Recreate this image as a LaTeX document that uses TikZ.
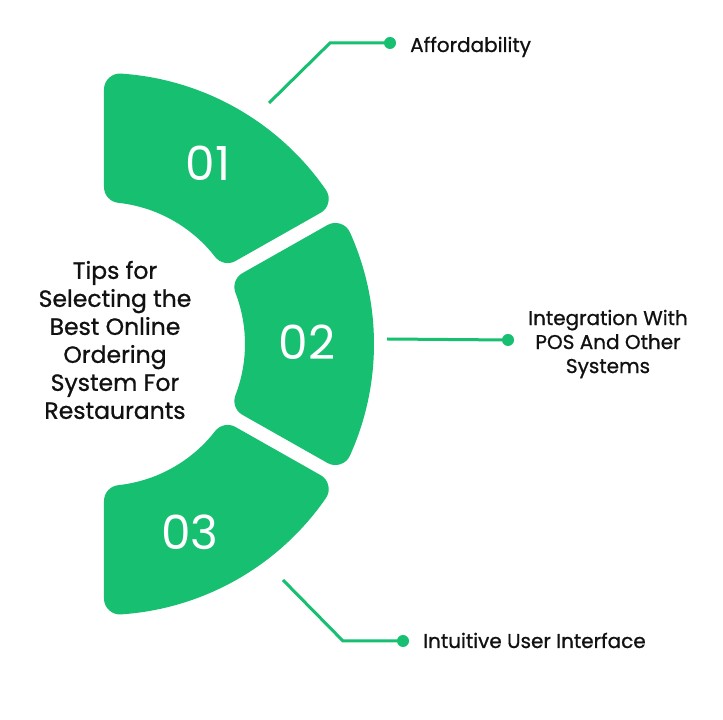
\documentclass[tikz,border=0pt]{standalone}
\usepackage{fontspec}
\setmainfont{Poppins}
\newfontfamily\medfont{Poppins}[FakeBold=0.8]
\usetikzlibrary{calc}
\definecolor{brandgreen}{RGB}{23,192,112}
\definecolor{inkblack}{RGB}{17,17,17}
\newcommand\segshape[4]{%
  \path[seg] ($(C)+({#1+asin((#2+16)/158)}:158)$)
    -- ($(C)+({#1+asin((#2+16)/255)}:255)$)
    arc[start angle={#1+asin((#2+16)/255)}, end angle={#3-asin((#4+16)/255)}, radius=255]
    -- ($(C)+({#3-asin((#4+16)/158)}:158)$)
    arc[start angle={#3-asin((#4+16)/158)}, end angle={#1+asin((#2+16)/158)}, radius=158]
    -- cycle;}
\begin{document}
\begin{tikzpicture}[x=1pt,y=1pt,
  seg/.style={fill=brandgreen,draw=brandgreen,line width=32pt,line join=round},
  num/.style={text=white,font=\fontsize{47}{47}\selectfont},
  conn/.style={draw=brandgreen,line width=3pt},
  dot/.style={circle,fill=brandgreen,inner sep=0pt,minimum size=12pt},
  lbl/.style={text=inkblack,font=\medfont\fontsize{20}{24}\selectfont,inner sep=0pt},
  title/.style={text=inkblack,font=\medfont\fontsize{23.5}{28}\selectfont,align=center,inner sep=0pt}]
\useasboundingbox (0,0) rectangle (723,720);
\fill[white] (0,0) rectangle (723,720);
\coordinate (C) at (103,376);
% segments
\segshape{29.5}{7}{90}{1}
\segshape{-29.5}{7}{29.5}{7}
\segshape{-90}{1}{-29.5}{7}
% numbers
\node[num] (n1) at (208,557) {01};
\node[num] (n2) at (307,378) {02};
\node[num] (n3) at (190,188) {03};
% title
\node[title] (tt) at (115,380) {Tips for\\Selecting the\\Best Online\\Ordering\\System For\\Restaurants};
% connector 1
\coordinate (a1) at (269,617);
\coordinate (b1) at (330,677);
\node[dot] (d1) at (390,677) {};
\draw[conn] (a1) -- (b1) -- (d1.center);
\node[lbl,anchor=base west] (t1) at (410,668) {Affordability};
% connector 2
\coordinate (a2) at (387,381);
\node[dot] (d2) at (508,380) {};
\draw[conn] (a2) -- (d2.center);
\node[lbl,align=center,anchor=center] (t2) at (608,376) {Integration With\\POS And Other\\Systems};
% connector 3
\coordinate (a3) at (283,140);
\coordinate (b3) at (343,79);
\node[dot] (d3) at (403,79) {};
\draw[conn] (a3) -- (b3) -- (d3.center);
\node[lbl,anchor=base west] (t3) at (423,72) {Intuitive User Interface};
\end{tikzpicture}
\end{document}
